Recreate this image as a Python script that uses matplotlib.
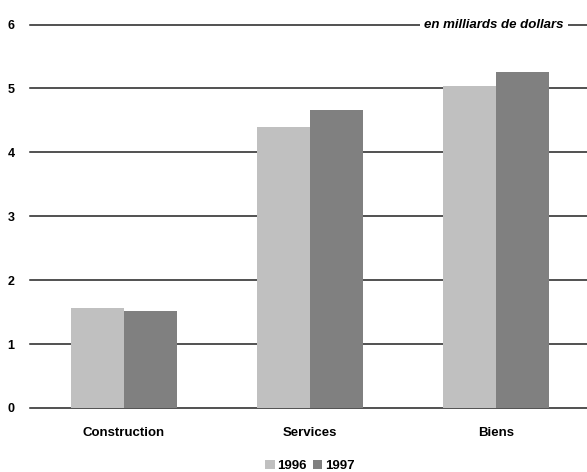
import matplotlib.pyplot as plt
import numpy as np

categories = ["Construction", "Services", "Biens"]
series_names = ["1996", "1997"]
values_1996 = [1.56, 4.40, 5.03]
values_1997 = [1.52, 4.67, 5.26]
y_ticks = [0, 1, 2, 3, 4, 5, 6]

plt.rcParams['font.family'] = ['Liberation Sans', 'DejaVu Sans']

fig = plt.figure(figsize=(5.87, 4.72), dpi=100)
ax = fig.add_axes([30 / 587, 1 - 408 / 472, 1 - 30 / 587, (408 - 24.5) / 472])

x = np.arange(len(categories))
width = 0.285
ax.bar(x - width / 2, values_1996, width, color="#c0c0c0", zorder=3, label=series_names[0])
ax.bar(x + width / 2, values_1997, width, color="#808080", zorder=3, label=series_names[1])

for t in y_ticks:
    ax.axhline(t, color="#222222", lw=1.1, zorder=1, clip_on=False)

ax.set_xlim(-0.505, 2.49)
ax.set_ylim(0, 6)
ax.set_yticks(y_ticks)
ax.set_yticklabels([str(t) for t in y_ticks], fontweight="bold", fontsize=9)
ax.set_xticks(x)
ax.set_xticklabels(categories, fontweight="bold", fontsize=9.5)
ax.tick_params(length=0)
ax.tick_params(axis="y", pad=11)
ax.tick_params(axis="x", pad=14)
for s in ax.spines.values():
    s.set_visible(False)

ax.text(0.958, 6, "en milliards de dollars", transform=ax.get_yaxis_transform(),
        ha="right", va="center", fontsize=9.5, fontweight="bold", style="italic",
        zorder=4, bbox=dict(facecolor="white", edgecolor="none", pad=3))

fig.legend(loc="center", bbox_to_anchor=(310 / 587, 1 - 466 / 472), ncol=2,
           frameon=False, handlelength=0.7, handleheight=0.7, handletextpad=0.2,
           columnspacing=0.5, prop=dict(weight="bold", size=9.5))

fig.savefig("out.png", dpi=100)
